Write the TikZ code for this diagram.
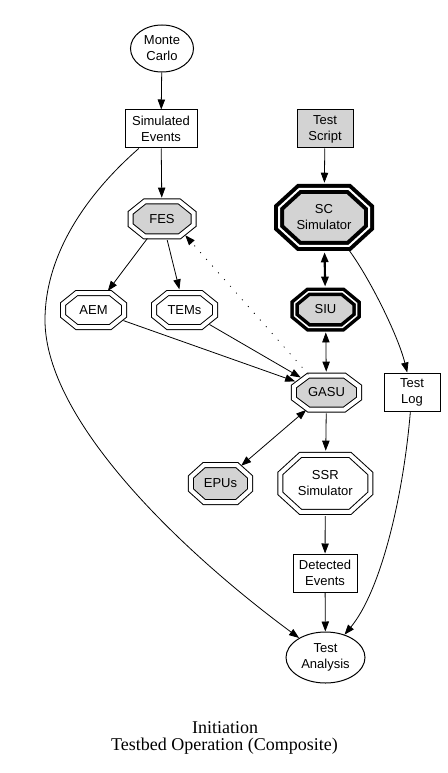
\documentclass[tikz,border=0pt]{standalone}
\usepackage{fontspec}
\setmainfont{Liberation Serif}
\newfontfamily\nodefont{Liberation Sans}
\usetikzlibrary{arrows.meta,shapes.geometric,calc}
\definecolor{lg}{RGB}{211,211,211}
% octagon outline: x, y, half width, half height, style
\newcommand\octo[5]{%
  \path[#5] ({#1-0.55*#3},{#2-#4}) -- ({#1+0.55*#3},{#2-#4}) -- ({#1+#3},{#2-0.35*#4}) -- ({#1+#3},{#2+0.35*#4}) -- ({#1+0.55*#3},{#2+#4}) -- ({#1-0.55*#3},{#2+#4}) -- ({#1-#3},{#2+0.35*#4}) -- ({#1-#3},{#2-0.35*#4}) -- cycle;}
% octagon node: name, x, y, W, H, half band, draw style, text
\newcommand\onode[8]{%
  \octo{#2}{#3}{#4}{#5}{#7}
  \node[lbl, ellipse, minimum width={1.545*(#4+#6)}, minimum height={1.545*(#5+#6)}] (#1) at (#2,#3) {#8};}
\tikzset{
  lbl/.style={font=\nodefont\fontsize{9.75}{12}\selectfont, align=center, inner sep=0pt},
  boxnode/.style={lbl, draw, rectangle, line width=0.75pt, minimum width=#1, minimum height=28.5pt},
  ellnode/.style 2 args={lbl, draw, ellipse, line width=0.75pt, minimum width=#1, minimum height=#2},
  thinoct/.style={draw, line width=0.75pt, double=white, double distance=3pt, line join=miter, fill=#1},
  thickoct/.style 2 args={draw, line width=#1, double=white, double distance=#2, line join=miter, fill=lg},
  conn/.style={line width=0.6pt, -{Triangle[length=7.5pt,width=5.5pt]}},
  dconn/.style={line width=0.6pt, {Triangle[length=7.5pt,width=5.5pt]}-{Triangle[length=7.5pt,width=5.5pt]}},
  bconn/.style={line width=1.6pt, {Triangle[length=7.5pt,width=5.5pt]}-{Triangle[length=7.5pt,width=5.5pt]}},
  dotline/.style={dash pattern=on 0.75pt off 6pt},
  title/.style={font=\fontsize{13.5}{13}\selectfont, inner sep=0pt, anchor=base}
}
\begin{document}
\begin{tikzpicture}[x=0.75pt,y=-0.75pt]
\useasboundingbox[fill=white] (0,0) rectangle (448,773);
% plain nodes
\node[ellnode={47.25pt}{35.25pt}] (mc) at (162,48.5) {Monte\\Carlo};
\node[boxnode=54pt] (simev) at (161,129) {Simulated\\Events};
\node[boxnode=42pt, fill=lg] (ts) at (325,129) {Test\\Script};
\node[boxnode=42pt] (tlog) at (412,392) {Test\\Log};
\node[boxnode=48pt] (de) at (325,573) {Detected\\Events};
\node[ellnode={59.25pt}{38.25pt}] (ta) at (325.5,657.5) {Test\\Analysis};
% octagon nodes
\onode{fes}{162}{219}{31.5}{17.5}{3}{thinoct=lg}{FES}
\onode{sc}{324}{217.5}{45}{28.5}{5}{thickoct={3pt}{1.5pt}}{SC\\Simulator}
\onode{aem}{93.5}{310}{30.5}{17}{3}{thinoct=white}{AEM}
\onode{tems}{184.5}{310}{30.5}{17}{3}{thinoct=white}{TEMs}
\onode{siu}{325.5}{309.5}{31}{17.75}{4.25}{thickoct={2.625pt}{1.125pt}}{SIU}
\onode{gasu}{326.5}{392.5}{32.7}{17}{3}{thinoct=lg}{GASU}
\onode{epus}{220.5}{483.5}{29.7}{18.5}{3}{thinoct=lg}{EPUs}
\onode{ssr}{325.3}{483.4}{45}{28.5}{3}{thinoct=white}{SSR\\Simulator}
% connectors
\draw[conn] (mc) -- (simev);
\draw[conn] (simev) -- (fes);
\draw[conn] (ts) -- (sc);
\draw[bconn] (sc) -- (siu);
\draw[dconn] (siu) -- (gasu);
\draw[conn] (fes) -- (aem);
\draw[conn] (fes) -- (tems);
\draw[conn] (aem) -- (gasu);
\draw[conn] (tems) -- (gasu);
\draw[conn, dotline] (gasu.135) -- (fes.-35);
\draw[dconn] (gasu) -- (epus);
\draw[conn] (gasu) -- (ssr);
\draw[conn] (ssr) -- (de);
\draw[conn] (de) -- (ta);
\draw[conn] (sc) .. controls (368,275) and (398,335) .. (tlog);
\draw[conn] (tlog) .. controls (403,500) and (380,592) .. (ta);
\coordinate (lb) at (45,320);
\draw[conn] (simev) .. controls (80,200) and (45,260) .. (lb) .. controls (45,420) and (180,550) .. (ta);
% title
\node[title] (t1) at (225,733) {Initiation};
\node[title] (t2) at (224.5,750) {Testbed Operation (Composite)};
\end{tikzpicture}
\end{document}
